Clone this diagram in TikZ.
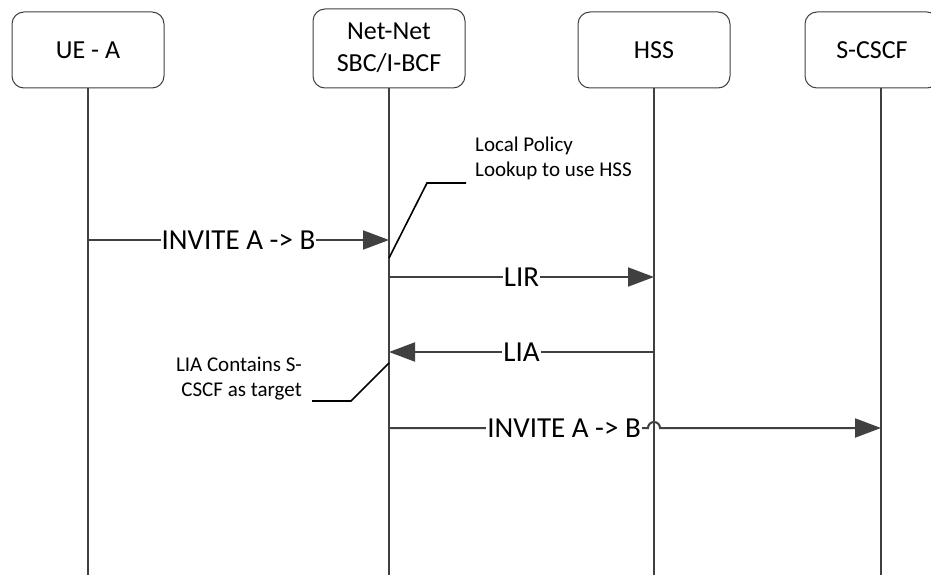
\documentclass[tikz,border=0pt]{standalone}
\usepackage{fontspec}
\setmainfont{Carlito}
\usetikzlibrary{arrows.meta,calc}
\definecolor{ln}{HTML}{404040}
\begin{document}
\begin{tikzpicture}[x=1pt,y=-1pt,
  actor/.style={draw=ln, line width=1pt, rounded corners=12pt, minimum width=152pt,
    minimum height=76pt, font=\fontsize{26}{32}\selectfont, align=center, inner sep=0pt},
  life/.style={draw=ln, line width=2pt},
  msg/.style={draw=ln, line width=2pt, -{Triangle[length=26pt,width=19pt]}},
  lbl/.style={fill=white, inner sep=1pt, font=\fontsize{29}{32}\selectfont},
  note/.style={font=\fontsize{21}{25}\selectfont, inner sep=0pt},
  callout/.style={draw=black, line width=1.6pt}]
\useasboundingbox (0,0) rectangle (931,575);
\clip (0,0) rectangle (931,575);
% actors
\node[actor] (ue) at (88,50) {UE - A};
\node[actor, minimum height=79pt, text depth=2pt] (sbc) at (389,48.5) {Net-Net\\SBC/I-BCF};
\node[actor] (hss) at (654,50) {HSS};
\node[actor, minimum width=134pt] (scscf) at (872,50) {S-CSCF};
% lifeline ends
\coordinate (ueE) at (88,575);
\coordinate (sbcE) at (389,575);
\coordinate (hssE) at (654,575);
\coordinate (scE) at (881,575);
\draw[life] (ue.south) -- (ueE);
\draw[life] (sbc.south) -- (sbcE);
\draw[life] (hss.south) -- (hssE);
\draw[life] (scscf.south -| scE) -- (scE);
% messages
\draw[msg] (ueE |- 0,240) -- node[lbl] {INVITE A -> B} (sbcE |- 0,240);
\draw[msg] (sbcE |- 0,277) -- node[lbl] {LIR} (hssE |- 0,277);
\draw[msg] (hssE |- 0,352) -- node[lbl] {LIA} (sbcE |- 0,352);
\draw[msg] (sbcE |- 0,428) -- node[lbl, pos=0.676] {INVITE A -> B}
  ($(hssE |- 0,428)+(-6,0)$) arc[start angle=180, end angle=360, radius=6]
  -- (scE |- 0,428);
% notes
\node[note, anchor=base west, align=left] (n1) at (475,176) {Local Policy\\Lookup to use HSS};
\coordinate (c1a) at (389,258);
\coordinate (c1b) at (427,183);
\coordinate (c1c) at (466,183);
\draw[callout] (c1a) -- (c1b) -- (c1c);
\node[note, anchor=base east, align=right] (n2) at (302,396) {LIA Contains S-\\CSCF as target};
\coordinate (c2a) at (389,363);
\coordinate (c2b) at (351,401);
\coordinate (c2c) at (312,401);
\draw[callout] (c2a) -- (c2b) -- (c2c);
\end{tikzpicture}
\end{document}
